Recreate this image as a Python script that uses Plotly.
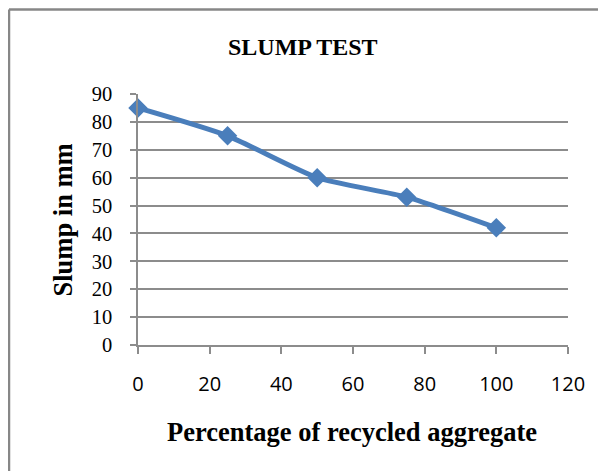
import plotly.graph_objects as go

x_pct = [0, 25, 50, 75, 100]
slump_mm = [85, 75, 60, 53, 42]
x_ticks = [0, 20, 40, 60, 80, 100, 120]
y_ticks = [0, 10, 20, 30, 40, 50, 60, 70, 80, 90]

# page has an 8px body margin, so the figure is drawn 8px smaller and offset
OFF = 8
W, H = 606 - OFF, 471 - OFF
L, T = 138 - OFF, 94 - OFF
R = W - (568 - OFF)
B = H - (345 - OFF)
pw, ph = W - L - R, H - T - B

def px_x(p):
    return (p - OFF - L) / pw

def px_y(p):
    return 1 - (p - OFF - T) / ph

fig = go.Figure()
fig.add_trace(go.Scatter(
    x=x_pct, y=slump_mm, mode="lines+markers",
    line=dict(color="#4a7ebb", width=5, shape="spline", smoothing=0.6),
    marker=dict(symbol="diamond", size=15, color="#4a7ebb"),
    showlegend=False, cliponaxis=False,
))

grid = "#8c8c8c"
fig.update_layout(
    width=W, height=H,
    margin=dict(l=L, r=R, t=T, b=B, pad=0),
    paper_bgcolor="white", plot_bgcolor="white",
    xaxis=dict(range=[0, 120], tickvals=x_ticks, showgrid=False,
               showline=True, linecolor=grid, linewidth=1.5,
               ticks="outside", ticklen=7, tickcolor=grid, tickwidth=1.5,
               ticklabelstandoff=13,
               tickfont=dict(family="Open Sans, Liberation Sans, sans-serif", size=20, color="black"),
               zeroline=False, fixedrange=True),
    yaxis=dict(range=[0, 90], tickvals=y_ticks, showgrid=True, gridcolor=grid, gridwidth=1.5,
               showline=True, linecolor=grid, linewidth=1.5,
               ticks="outside", ticklen=6, tickcolor=grid, tickwidth=1.5,
               ticklabelstandoff=14,
               tickfont=dict(family="Liberation Serif, Times New Roman, serif", size=20.5, color="black"),
               zeroline=False, fixedrange=True),
    shapes=[
        dict(type="line", xref="paper", yref="paper",
             x0=px_x(9), x1=px_x(620), y0=px_y(9.5), y1=px_y(9.5),
             line=dict(color="#878787", width=2.5)),
        dict(type="line", xref="paper", yref="paper",
             x0=px_x(9), x1=px_x(9), y0=px_y(9.5), y1=px_y(480),
             line=dict(color="#878787", width=2.5)),
    ],
    annotations=[
        dict(text="<b>SLUMP TEST</b>", xref="paper", yref="paper",
             x=px_x(302.5), y=px_y(47), xanchor="center", yanchor="middle", showarrow=False,
             font=dict(family="Liberation Serif, Times New Roman, serif", size=24, color="black")),
        dict(text="<b>Slump in mm</b>", xref="paper", yref="paper", textangle=-90,
             x=px_x(62), y=px_y(220.5), xanchor="center", yanchor="middle", showarrow=False,
             font=dict(family="Liberation Serif, Times New Roman, serif", size=26.5, color="black")),
        dict(text="<b>Percentage of recycled aggregate</b>", xref="paper", yref="paper",
             x=px_x(352), y=px_y(432), xanchor="center", yanchor="middle", showarrow=False,
             font=dict(family="Liberation Serif, Times New Roman, serif", size=26.5, color="black")),
    ],
)

fig.write_html("out.html")
